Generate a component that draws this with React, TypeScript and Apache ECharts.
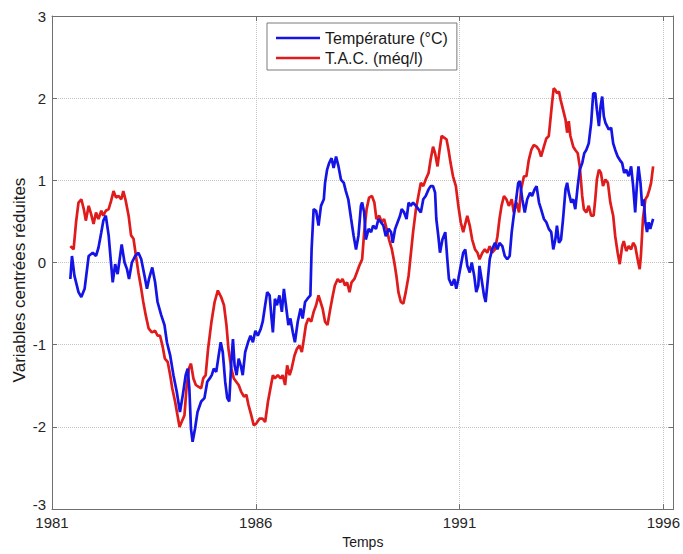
import React, { useEffect, useRef } from "react";
import * as echarts from "echarts";

const tempYears = [
  1981.45, 1981.49, 1981.55, 1981.65, 1981.72, 1981.8, 1981.9, 1982.0, 1982.08, 1982.14, 1982.21, 1982.26, 1982.32,
  1982.39, 1982.44, 1982.49, 1982.55, 1982.61, 1982.66, 1982.71, 1982.78, 1982.84, 1982.89, 1982.96, 1983.04, 1983.12,
  1983.19, 1983.27, 1983.33, 1983.38, 1983.46, 1983.53, 1983.59, 1983.68, 1983.76, 1983.82, 1983.9, 1983.98, 1984.06,
  1984.14, 1984.21, 1984.28, 1984.33, 1984.37, 1984.41, 1984.45, 1984.51, 1984.57, 1984.66, 1984.74, 1984.81, 1984.87,
  1984.92, 1984.97, 1985.03, 1985.09, 1985.14, 1985.19, 1985.25, 1985.3, 1985.35, 1985.4, 1985.44, 1985.48, 1985.53,
  1985.58, 1985.63, 1985.68, 1985.74, 1985.81, 1985.87, 1985.93, 1985.99, 1986.05, 1986.12, 1986.17, 1986.23, 1986.28,
  1986.34, 1986.38, 1986.42, 1986.47, 1986.52, 1986.58, 1986.64, 1986.69, 1986.74, 1986.8, 1986.85, 1986.91, 1986.96,
  1987.03, 1987.1, 1987.15, 1987.21, 1987.27, 1987.34, 1987.37, 1987.42, 1987.48, 1987.54, 1987.6, 1987.67, 1987.7,
  1987.75, 1987.8, 1987.86, 1987.91, 1987.97, 1988.03, 1988.09, 1988.16, 1988.21, 1988.27, 1988.34, 1988.4, 1988.46,
  1988.52, 1988.58, 1988.61, 1988.66, 1988.7, 1988.77, 1988.83, 1988.88, 1988.95, 1989.01, 1989.07, 1989.13, 1989.19,
  1989.26, 1989.32, 1989.36, 1989.42, 1989.48, 1989.54, 1989.58, 1989.64, 1989.7, 1989.75, 1989.8, 1989.86, 1989.93,
  1989.99, 1990.05, 1990.11, 1990.17, 1990.24, 1990.29, 1990.35, 1990.4, 1990.43, 1990.48, 1990.52, 1990.58, 1990.65,
  1990.7, 1990.74, 1990.81, 1990.87, 1990.92, 1990.97, 1991.03, 1991.09, 1991.14, 1991.19, 1991.25, 1991.3, 1991.36,
  1991.41, 1991.46, 1991.49, 1991.54, 1991.6, 1991.64, 1991.68, 1991.74, 1991.8, 1991.87, 1991.93, 1991.98, 1992.05,
  1992.11, 1992.17, 1992.23, 1992.28, 1992.33, 1992.39, 1992.44, 1992.48, 1992.54, 1992.6, 1992.66, 1992.73, 1992.78,
  1992.84, 1992.89, 1992.95, 1993.0, 1993.07, 1993.13, 1993.19, 1993.25, 1993.3, 1993.35, 1993.39, 1993.44, 1993.49,
  1993.54, 1993.6, 1993.64, 1993.68, 1993.74, 1993.79, 1993.84, 1993.9, 1993.95, 1994.01, 1994.06, 1994.11, 1994.17,
  1994.23, 1994.28, 1994.33, 1994.37, 1994.42, 1994.46, 1994.5, 1994.54, 1994.58, 1994.62, 1994.66, 1994.72, 1994.77,
  1994.82, 1994.88, 1994.93, 1994.99, 1995.04, 1995.09, 1995.15, 1995.21, 1995.26, 1995.31, 1995.35, 1995.39, 1995.44,
  1995.48, 1995.52, 1995.56, 1995.6, 1995.64, 1995.68, 1995.75,
];
const tempValues = [
  -0.2, 0.08, -0.16, -0.36, -0.42, -0.32, 0.08, 0.12, 0.08, 0.18, 0.37, 0.51, 0.57,
  0.33, 0.04, -0.24, -0.02, -0.14, 0.04, 0.22, 0.0, -0.08, -0.2, 0.0, 0.08, 0.12,
  0.04, -0.16, -0.32, -0.2, -0.06, -0.24, -0.48, -0.64, -0.76, -0.97, -1.13, -1.37, -1.57,
  -1.82, -1.61, -1.37, -1.29, -1.53, -2.02, -2.18, -2.02, -1.82, -1.69, -1.65, -1.45, -1.41,
  -1.37, -1.29, -1.33, -1.13, -0.97, -1.09, -1.45, -1.65, -1.69, -1.21, -0.93, -1.25, -1.37,
  -1.17, -1.25, -1.37, -1.09, -0.97, -0.89, -0.97, -0.83, -0.89, -0.81, -0.72, -0.52, -0.36,
  -0.4, -0.64, -0.85, -0.44, -0.52, -0.4, -0.6, -0.32, -0.52, -0.76, -0.68, -0.85, -0.97,
  -0.72, -0.56, -0.68, -0.48, -0.44, -0.4, 0.16, 0.65, 0.63, 0.45, 0.69, 0.77, 0.97,
  1.13, 1.21, 1.27, 1.15, 1.29, 1.17, 1.01, 0.97, 0.87, 0.77, 0.53, 0.33, 0.16,
  0.33, 0.69, 0.73, 0.61, 0.28, 0.41, 0.37, 0.45, 0.41, 0.53, 0.49, 0.45, 0.32,
  0.41, 0.37, 0.24, 0.41, 0.49, 0.57, 0.65, 0.61, 0.53, 0.73, 0.69, 0.73, 0.69,
  0.65, 0.61, 0.77, 0.81, 0.89, 0.93, 0.93, 0.85, 0.53, 0.32, 0.12, 0.28, 0.37,
  0.04, -0.2, -0.28, -0.2, -0.32, -0.2, -0.04, 0.12, 0.16, -0.04, -0.12, 0.0, -0.16,
  -0.36, -0.28, -0.04, -0.2, -0.4, -0.48, -0.28, 0.04, 0.16, 0.24, 0.16, 0.24, 0.2,
  0.08, 0.04, 0.08, 0.37, 0.57, 0.77, 0.97, 0.99, 0.77, 0.61, 0.77, 0.85, 0.81,
  0.89, 0.93, 0.73, 0.65, 0.53, 0.49, 0.41, 0.37, 0.16, 0.28, 0.45, 0.24, 0.28,
  0.53, 0.89, 0.97, 0.85, 0.73, 0.77, 0.65, 0.93, 1.13, 1.21, 1.33, 1.37, 1.45,
  1.7, 2.06, 2.06, 1.86, 1.66, 1.9, 2.02, 1.78, 1.7, 1.66, 1.62, 1.64, 1.45,
  1.37, 1.29, 1.25, 1.21, 1.09, 1.13, 1.05, 1.17, 0.93, 0.61, 0.93, 1.17, 0.97,
  0.69, 0.77, 0.49, 0.37, 0.49, 0.41, 0.53,
];

const tacYears = [
  1981.45, 1981.53, 1981.59, 1981.65, 1981.72, 1981.78, 1981.83, 1981.9, 1981.96, 1982.02, 1982.08, 1982.14, 1982.21,
  1982.26, 1982.32, 1982.39, 1982.45, 1982.51, 1982.57, 1982.63, 1982.7, 1982.75, 1982.81, 1982.88, 1982.94, 1983.0,
  1983.06, 1983.12, 1983.19, 1983.24, 1983.3, 1983.37, 1983.45, 1983.53, 1983.59, 1983.65, 1983.71, 1983.77, 1983.84,
  1983.9, 1983.95, 1984.02, 1984.08, 1984.13, 1984.18, 1984.25, 1984.3, 1984.36, 1984.41, 1984.47, 1984.53, 1984.59,
  1984.66, 1984.71, 1984.77, 1984.83, 1984.91, 1984.99, 1985.07, 1985.15, 1985.22, 1985.28, 1985.33, 1985.4, 1985.46,
  1985.52, 1985.58, 1985.64, 1985.71, 1985.77, 1985.82, 1985.89, 1985.95, 1986.01, 1986.09, 1986.17, 1986.23, 1986.3,
  1986.36, 1986.42, 1986.47, 1986.54, 1986.61, 1986.66, 1986.72, 1986.77, 1986.83, 1986.88, 1986.95, 1987.01, 1987.07,
  1987.13, 1987.18, 1987.23, 1987.29, 1987.36, 1987.42, 1987.48, 1987.54, 1987.59, 1987.64, 1987.7, 1987.76, 1987.83,
  1987.89, 1987.94, 1988.01, 1988.07, 1988.13, 1988.19, 1988.24, 1988.3, 1988.35, 1988.42, 1988.48, 1988.54, 1988.61,
  1988.66, 1988.72, 1988.78, 1988.85, 1988.91, 1988.96, 1989.03, 1989.09, 1989.15, 1989.21, 1989.27, 1989.34, 1989.4,
  1989.45, 1989.5, 1989.56, 1989.62, 1989.68, 1989.75, 1989.8, 1989.86, 1989.93, 1989.99, 1990.05, 1990.11, 1990.17,
  1990.24, 1990.29, 1990.35, 1990.4, 1990.46, 1990.51, 1990.56, 1990.62, 1990.68, 1990.73, 1990.78, 1990.84, 1990.91,
  1990.97, 1991.03, 1991.09, 1991.13, 1991.19, 1991.25, 1991.31, 1991.38, 1991.44, 1991.49, 1991.56, 1991.62, 1991.68,
  1991.74, 1991.8, 1991.87, 1991.93, 1991.98, 1992.03, 1992.09, 1992.15, 1992.21, 1992.28, 1992.33, 1992.4, 1992.46,
  1992.51, 1992.58, 1992.64, 1992.7, 1992.76, 1992.82, 1992.89, 1992.95, 1993.0, 1993.07, 1993.13, 1993.19, 1993.23,
  1993.27, 1993.31, 1993.35, 1993.39, 1993.44, 1993.48, 1993.54, 1993.6, 1993.64, 1993.68, 1993.72, 1993.79, 1993.84,
  1993.9, 1993.95, 1994.01, 1994.05, 1994.11, 1994.17, 1994.23, 1994.29, 1994.33, 1994.37, 1994.42, 1994.47, 1994.52,
  1994.58, 1994.64, 1994.7, 1994.77, 1994.82, 1994.88, 1994.93, 1994.99, 1995.03, 1995.09, 1995.15, 1995.21, 1995.26,
  1995.31, 1995.37, 1995.42, 1995.45, 1995.5, 1995.56, 1995.61, 1995.66, 1995.7, 1995.75,
];
const tacValues = [
  0.2, 0.16, 0.49, 0.73, 0.77, 0.65, 0.51, 0.69, 0.59, 0.47, 0.61, 0.53, 0.63,
  0.57, 0.63, 0.65, 0.75, 0.87, 0.79, 0.81, 0.77, 0.87, 0.75, 0.57, 0.33, 0.29,
  0.08, -0.12, -0.32, -0.48, -0.64, -0.8, -0.85, -0.83, -0.89, -0.89, -1.01, -1.17, -1.21,
  -1.37, -1.53, -1.69, -1.86, -2.0, -1.94, -1.86, -1.53, -1.29, -1.23, -1.41, -1.49, -1.51,
  -1.53, -1.41, -1.37, -1.05, -0.73, -0.48, -0.34, -0.42, -0.52, -0.76, -1.05, -1.29, -1.41,
  -1.45, -1.49, -1.57, -1.63, -1.61, -1.73, -1.86, -1.98, -1.96, -1.9, -1.9, -1.94, -1.69,
  -1.53, -1.37, -1.41, -1.37, -1.41, -1.37, -1.49, -1.25, -1.37, -1.29, -1.13, -1.05, -1.01,
  -1.09, -0.93, -0.76, -0.68, -0.72, -0.6, -0.52, -0.4, -0.48, -0.56, -0.72, -0.76, -0.56,
  -0.4, -0.28, -0.2, -0.24, -0.2, -0.28, -0.24, -0.36, -0.24, -0.2, -0.12, -0.04, 0.04,
  0.37, 0.65, 0.79, 0.81, 0.73, 0.53, 0.57, 0.49, 0.53, 0.41, 0.28, 0.16, 0.0,
  -0.16, -0.36, -0.48, -0.5, -0.36, -0.16, 0.08, 0.37, 0.65, 0.81, 0.97, 0.93, 1.01,
  1.09, 1.25, 1.41, 1.33, 1.17, 1.37, 1.54, 1.52, 1.5, 1.37, 1.21, 1.05, 0.93,
  0.69, 0.49, 0.37, 0.45, 0.57, 0.45, 0.28, 0.16, 0.12, 0.04, 0.12, 0.16, 0.12,
  0.2, 0.12, 0.16, 0.32, 0.53, 0.69, 0.81, 0.77, 0.69, 0.77, 0.61, 0.73, 0.61,
  0.89, 1.05, 1.05, 1.25, 1.37, 1.43, 1.41, 1.37, 1.29, 1.41, 1.51, 1.54, 1.74,
  1.94, 2.12, 2.1, 2.06, 2.08, 1.98, 1.86, 1.74, 1.58, 1.72, 1.54, 1.41, 1.37,
  1.33, 1.17, 0.81, 0.65, 0.61, 0.69, 0.57, 0.57, 0.77, 1.01, 1.13, 1.09, 0.93,
  1.01, 0.97, 0.73, 0.57, 0.32, 0.12, -0.02, 0.2, 0.26, 0.14, 0.2, 0.16, 0.24,
  0.2, 0.04, -0.08, 0.08, 0.53, 0.77, 0.81, 0.89, 0.97, 1.17,
];

const xTicks = [1981, 1986, 1991, 1996];
const seriesNames = ["Température (°C)", "T.A.C. (méq/l)"];
const xName = "Temps";
const yName = "Variables centrées réduites";

const FONT = "'Liberation Sans', Arial, Helvetica, sans-serif";
const AXIS_COLOR = "#6f6f6f";
const LABEL_COLOR = "#262626";
const LEGEND_LINE_ICON = "path://M0,0L44,0L44,2.6L0,2.6Z";

export default function App() {
  const ref = useRef<HTMLDivElement>(null);
  useEffect(() => {
    if (!ref.current) return;
    const chart = echarts.init(ref.current, null, { renderer: "svg" });
    const zip = (xs: number[], ys: number[]) => xs.map((x, i) => [x, ys[i]]);
    const xMin = 1981;
    const xMax = 1996.25;
    chart.setOption({
      animation: false,
      backgroundColor: "#ffffff",
      grid: { left: 52, right: 9, top: 16, bottom: 43, containLabel: false },
      legend: {
        left: 267,
        top: 23,
        orient: "vertical",
        padding: [7, 9, 4, 9],
        itemGap: 4,
        itemWidth: 44,
        itemHeight: 16,
        icon: LEGEND_LINE_ICON,
        symbolKeepAspect: true,
        borderColor: "#7a7a7a",
        borderWidth: 1,
        backgroundColor: "#ffffff",
        textStyle: { fontFamily: FONT, fontSize: 16, color: "#1a1a1a", lineHeight: 16 },
        data: seriesNames,
      },
      xAxis: [
        {
          type: "value",
          min: xMin,
          max: xMax,
          position: "bottom",
          name: xName,
          nameLocation: "middle",
          nameGap: 25,
          nameTextStyle: { fontFamily: FONT, fontSize: 14, color: "#1a1a1a" },
          axisLine: { show: true, onZero: false, lineStyle: { color: AXIS_COLOR, width: 1 } },
          axisTick: { show: true, inside: true, length: 5, customValues: xTicks, lineStyle: { color: AXIS_COLOR } },
          axisLabel: {
            show: true,
            customValues: xTicks,
            margin: 7,
            lineHeight: 13,
            fontFamily: FONT,
            fontSize: 15,
            color: LABEL_COLOR,
            formatter: (v: number) => String(Math.round(v)),
          },
          splitLine: { show: true, lineStyle: { color: "#c4c4c4", type: "dotted", width: 1 } },
        },
        {
          type: "value",
          min: xMin,
          max: xMax,
          position: "top",
          axisLine: { show: true, onZero: false, lineStyle: { color: AXIS_COLOR, width: 1 } },
          axisTick: { show: true, inside: true, length: 5, customValues: xTicks, lineStyle: { color: AXIS_COLOR } },
          axisLabel: { show: false },
          splitLine: { show: false },
        },
      ],
      yAxis: [
        {
          type: "value",
          min: -3,
          max: 3,
          interval: 1,
          position: "left",
          axisLine: { show: true, onZero: false, lineStyle: { color: AXIS_COLOR, width: 1 } },
          axisTick: { show: true, inside: true, length: 5, lineStyle: { color: AXIS_COLOR } },
          axisLabel: {
            show: true,
            margin: 6,
            lineHeight: 11,
            fontFamily: FONT,
            fontSize: 15,
            color: LABEL_COLOR,
            formatter: (v: number) => (v === -3 ? `{lo|${v}}` : String(v)),
            rich: {
              lo: {
                fontFamily: FONT,
                fontSize: 15,
                color: LABEL_COLOR,
                lineHeight: 11,
                padding: [0, 0, 10, 0],
              },
            },
          },
          splitLine: { show: true, lineStyle: { color: "#c4c4c4", type: "dotted", width: 1 } },
        },
        {
          type: "value",
          min: -3,
          max: 3,
          interval: 1,
          position: "right",
          axisLine: { show: true, onZero: false, lineStyle: { color: AXIS_COLOR, width: 1 } },
          axisTick: { show: true, inside: true, length: 5, lineStyle: { color: AXIS_COLOR } },
          axisLabel: { show: false },
          splitLine: { show: false },
        },
      ],
      graphic: [
        {
          type: "text",
          x: 19,
          y: 280,
          rotation: Math.PI / 2,
          style: {
            text: yName,
            fontFamily: FONT,
            fontSize: 17,
            fill: "#1a1a1a",
            align: "center",
            verticalAlign: "middle",
          },
        },
      ],
      series: [
        {
          name: seriesNames[0],
          type: "line",
          xAxisIndex: 0,
          yAxisIndex: 0,
          data: zip(tempYears, tempValues),
          symbol: "none",
          showSymbol: false,
          lineStyle: { color: "#1414e6", width: 2.7 },
          itemStyle: { color: "#1414e6" },
          z: 3,
        },
        {
          name: seriesNames[1],
          type: "line",
          xAxisIndex: 0,
          yAxisIndex: 0,
          data: zip(tacYears, tacValues),
          symbol: "none",
          showSymbol: false,
          lineStyle: { color: "#e01b1b", width: 2.7 },
          itemStyle: { color: "#e01b1b" },
          z: 2,
        },
      ],
    });
    return () => chart.dispose();
  }, []);
  return (
    <div
      ref={ref}
      style={{ position: "absolute", left: 0, top: 0, width: 683, height: 554, background: "#fff" }}
    />
  );
}
